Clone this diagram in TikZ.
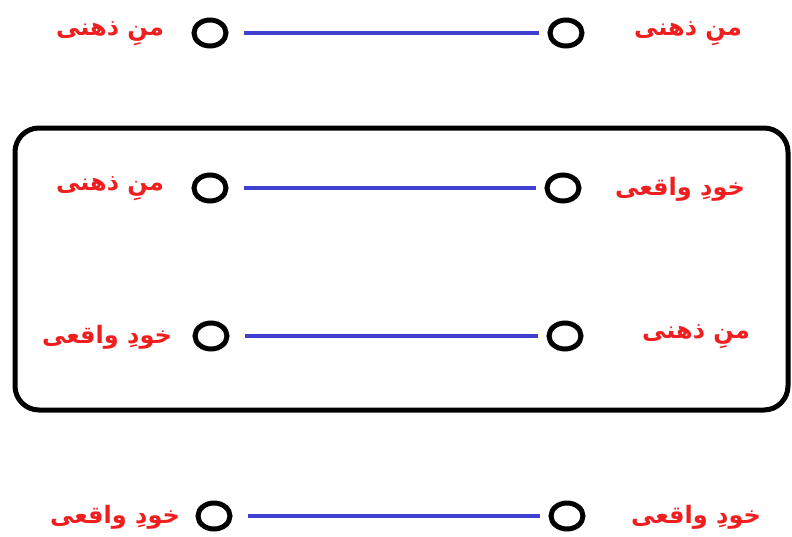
\documentclass[tikz,border=0pt]{standalone}
\usepackage{fontspec}
\usetikzlibrary{positioning, shapes.geometric}
\TeXXeTstate=1
\newfontfamily\arabicfont[Script=Arabic]{DejaVu Sans}
\definecolor{linkblue}{RGB}{64,64,208}
\definecolor{labelred}{RGB}{240,30,30}
\newcommand{\mind}{\arabicfont\bfseries\beginR منِ ذهنی\endR}
\newcommand{\real}{\arabicfont\bfseries\beginR خودِ واقعی\endR}
\tikzset{
  dot/.style={ellipse, draw, line width=5pt, minimum width=32pt, minimum height=26pt, inner sep=0pt},
  tag/.style={text=labelred, font=\fontsize{24}{28}\selectfont, inner sep=0pt},
  link/.style={linkblue, line width=3.5pt, shorten <=15pt, shorten >=9pt}
}
\begin{document}
\begin{tikzpicture}[x=1pt, y=-1pt]
        \useasboundingbox (0,0) rectangle (792,536);
        
        % Frame
        \draw[line width=5pt, rounded corners=24pt] (15,128) rectangle (788,410);
        
        % Row 1
        \node[dot] (l1) at (210,33) {};
        \node[dot] (r1) at (566,33) {};
        \node[tag] (tl1) at (110,34) {\mind};
        \node[tag] (tr1) at (688,34) {\mind};
        
        % Row 2
        \node[dot] (l2) at (210,188) {};
        \node[dot] (r2) at (563,188) {};
        \node[tag] (tl2) at (110,189) {\mind};
        \node[tag] (tr2) at (680,189) {\real};
        
        % Row 3
        \node[dot] (l3) at (211,336) {};
        \node[dot] (r3) at (565,336) {};
        \node[tag] (tl3) at (107,337) {\real};
        \node[tag] (tr3) at (696,337) {\mind};
        
        % Row 4
        \node[dot] (l4) at (214,516) {};
        \node[dot] (r4) at (567,516) {};
        \node[tag] (tl4) at (115,517) {\real};
        \node[tag] (tr4) at (696,517) {\real};
        
        % Connections
        \draw[link] (l1) -- (r1);
        \draw[link] (l2) -- (r2);
        \draw[link] (l3) -- (r3);
        \draw[link] (l4) -- (r4);
    \end{tikzpicture}
\end{document}
